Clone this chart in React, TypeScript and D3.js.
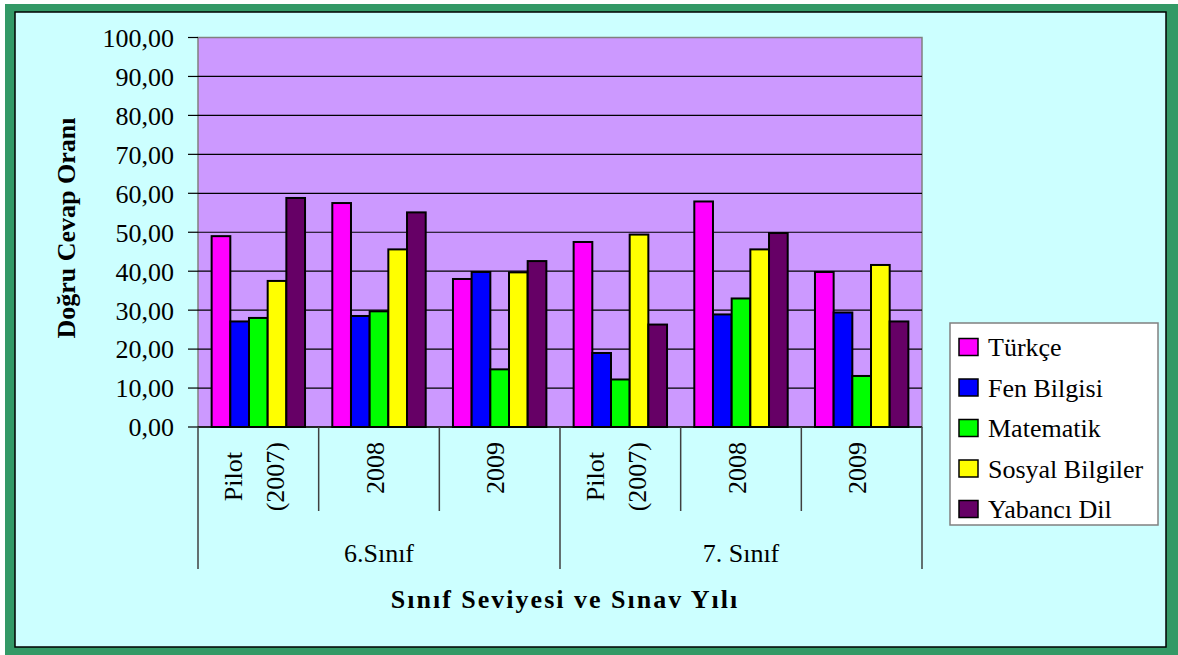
import React, { useRef, useEffect } from "react";
import * as d3 from "d3";

// categories (each label may have several lines, drawn rotated)
const categories = ["p6", "y6_2008", "y6_2009", "p7", "y7_2008", "y7_2009"];
const categoryLines = [["Pilot", "(2007)"], ["2008"], ["2009"], ["Pilot", "(2007)"], ["2008"], ["2009"]];
const groupLabels = ["6.Sınıf", "7. Sınıf"];

const seriesNames = ["Türkçe", "Fen Bilgisi", "Matematik", "Sosyal Bilgiler", "Yabancı Dil"];
const seriesColors = ["#FF00FF", "#0000FF", "#00FF00", "#FFFF00", "#660066"];

// values, one array per series
const turkce = [49.0, 57.5, 38.0, 47.5, 57.9, 39.8];
const fenBilgisi = [27.1, 28.5, 39.8, 19.0, 28.9, 29.4];
const matematik = [28.0, 29.7, 14.8, 12.2, 33.0, 13.1];
const sosyalBilgiler = [37.5, 45.6, 39.7, 49.4, 45.6, 41.6];
const yabanciDil = [58.8, 55.1, 42.6, 26.3, 49.8, 27.1];

const yTicks = [0, 10, 20, 30, 40, 50, 60, 70, 80, 90, 100];

const W = 1178;
const H = 655;
const FONT = '"Liberation Serif", "Times New Roman", "DejaVu Serif", serif';

function App() {
  const svgRef = useRef<SVGSVGElement>(null);

  useEffect(() => {
    const svg = d3.select(svgRef.current);
    svg.selectAll("*").remove();
    svg.style("font-family", FONT);

    const series = [turkce, fenBilgisi, matematik, sosyalBilgiler, yabanciDil];
    const plot = { left: 198, right: 922, top: 37.5, bottom: 427 };

    // frame
    svg.append("rect").attr("width", W).attr("height", H).attr("fill", "#fff");
    svg.append("rect").attr("x", 5).attr("y", 4).attr("width", W - 5).attr("height", H - 4).attr("fill", "#339966");
    svg.append("rect").attr("x", 15).attr("y", 12).attr("width", 1151).attr("height", 635)
      .attr("fill", "#CCFFFF").attr("stroke", "#000").attr("stroke-width", 1.5);

    const x0 = d3.scaleBand<string>().domain(categories).range([plot.left, plot.right]).padding(0);
    const x1 = d3.scaleBand<number>().domain(d3.range(seriesNames.length))
      .range([0, x0.bandwidth()]).paddingInner(0).paddingOuter(0.73);
    const y = d3.scaleLinear().domain([0, 100]).range([plot.bottom, plot.top]);

    const fmt = d3.formatLocale({ decimal: ",", thousands: ".", grouping: [3], currency: ["", ""] }).format(".2f");

    const txt = (sel: any) => sel.style("font-family", FONT).attr("fill", "#000");

    // plot area
    svg.append("rect")
      .attr("x", plot.left).attr("y", plot.top)
      .attr("width", plot.right - plot.left).attr("height", plot.bottom - plot.top)
      .attr("fill", "#CC99FF").attr("stroke", "#808080").attr("stroke-width", 1.5);

    // gridlines + ticks + labels
    const yg = svg.append("g");
    yTicks.forEach(t => {
      if (t > 0 && t < 100) {
        yg.append("line").attr("x1", plot.left).attr("x2", plot.right)
          .attr("y1", y(t)).attr("y2", y(t)).attr("stroke", "#000").attr("stroke-width", 1.2);
      }
      yg.append("line").attr("x1", plot.left - 10).attr("x2", plot.left)
        .attr("y1", y(t)).attr("y2", y(t)).attr("stroke", "#000").attr("stroke-width", 1.2);
      yg.append("text").attr("x", 174).attr("y", y(t)).attr("dy", "0.36em")
        .attr("text-anchor", "end").attr("font-size", 26)
        .call(txt).text(fmt(t));
    });

    // bars
    categories.forEach((c, ci) => {
      series.forEach((vals, si) => {
        svg.append("rect")
          .attr("x", (x0(c) as number) + (x1(si) as number))
          .attr("y", y(vals[ci]))
          .attr("width", x1.bandwidth())
          .attr("height", y(0) - y(vals[ci]))
          .attr("fill", seriesColors[si])
          .attr("stroke", "#000").attr("stroke-width", 2);
      });
    });

    // axis line at zero
    svg.append("line").attr("x1", plot.left).attr("x2", plot.right)
      .attr("y1", y(0)).attr("y2", y(0)).attr("stroke", "#000").attr("stroke-width", 1.5);

    // category separators
    const ax = svg.append("g");
    categories.forEach((c, ci) => {
      const xs = x0(c) as number;
      const outer = ci % 3 === 0;
      ax.append("line").attr("x1", xs).attr("x2", xs)
        .attr("y1", plot.bottom).attr("y2", outer ? 569 : 511)
        .attr("stroke", "#404040").attr("stroke-width", 1.5);
    });
    ax.append("line").attr("x1", plot.right).attr("x2", plot.right)
      .attr("y1", plot.bottom).attr("y2", 569).attr("stroke", "#404040").attr("stroke-width", 1.5);

    // rotated category labels
    categories.forEach((c, ci) => {
      const cx = (x0(c) as number) + x0.bandwidth() / 2;
      const lines = categoryLines[ci];
      const texts = lines.map((ln, li) => {
        const bx = cx + (li - (lines.length - 1) / 2) * 42 + 4.5;
        return ax.append("text")
          .attr("font-size", 26).call(txt)
          .attr("text-anchor", "middle")
          .attr("data-bx", bx)
          .text(ln);
      });
      const maxLen = d3.max(texts, t => (t.node() as SVGTextElement).getComputedTextLength()) || 0;
      const cy = 442 + maxLen / 2;
      texts.forEach(t => {
        const bx = +t.attr("data-bx");
        t.attr("transform", `translate(${bx},${cy}) rotate(-90)`);
      });
    });

    // group labels
    groupLabels.forEach((g, gi) => {
      const xs = x0(categories[gi * 3]) as number;
      const cx = xs + (x0.bandwidth() * 3) / 2;
      ax.append("text").attr("x", cx).attr("y", 562)
        .attr("text-anchor", "middle").attr("font-size", 26)
        .call(txt).text(g);
    });

    // axis titles
    svg.append("text").attr("x", (plot.left + plot.right) / 2 + 5).attr("y", 608)
      .attr("text-anchor", "middle").attr("font-size", 26)
      .attr("font-weight", "bold").attr("letter-spacing", 2).call(txt)
      .text("Sınıf Seviyesi ve Sınav Yılı");
    svg.append("text").attr("transform", "translate(75,228) rotate(-90)")
      .attr("text-anchor", "middle").attr("font-size", 26)
      .attr("font-weight", "bold").call(txt)
      .text("Doğru Cevap Oranı");

    // legend
    const lg = svg.append("g");
    lg.append("rect").attr("x", 950).attr("y", 323).attr("width", 208).attr("height", 202)
      .attr("fill", "#fff").attr("stroke", "#808080").attr("stroke-width", 1.5);
    seriesNames.forEach((name, i) => {
      const cy = 347 + i * 40.5;
      lg.append("rect").attr("x", 959).attr("y", cy - 8.5).attr("width", 19).attr("height", 17)
        .attr("fill", seriesColors[i]).attr("stroke", "#000").attr("stroke-width", 1.5);
      lg.append("text").attr("x", 988).attr("y", cy).attr("dy", "0.36em")
        .attr("font-size", 26).call(txt).text(name);
    });
  }, []);

  return (
    <div style={{ position: "absolute", left: 0, top: 0 }}>
      <svg ref={svgRef} width={W} height={H} style={{ display: "block", fontFamily: FONT }}></svg>
    </div>
  );
}

export default App;
